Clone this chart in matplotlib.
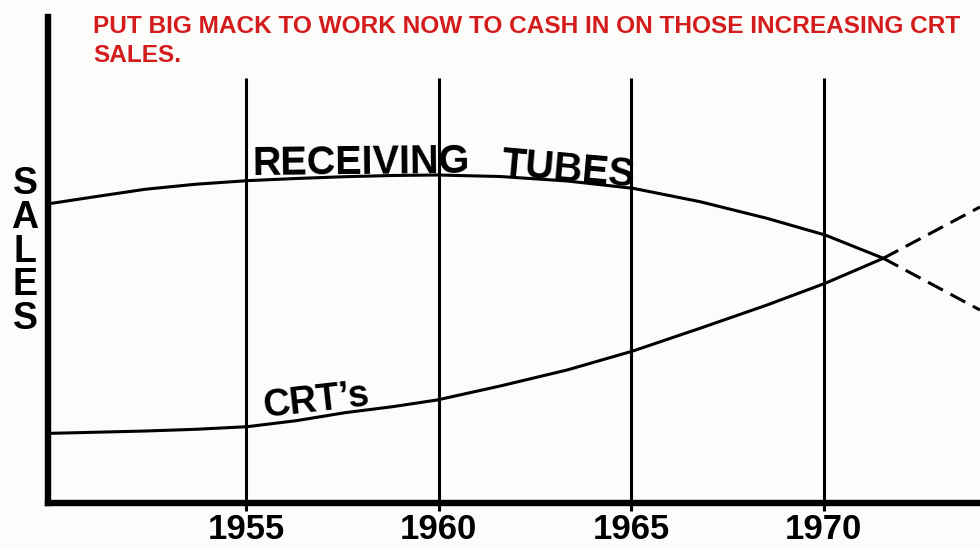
import matplotlib.pyplot as plt

# values (sales in arbitrary units, 0 = x axis, 100 = top of y axis)
tube_years = [1949.96, 1951.08, 1952.38, 1953.68, 1955.03, 1956.3, 1957.57, 1958.8,
              1959.96, 1961.6, 1963.34, 1965.05, 1966.79, 1968.53, 1970.04, 1971.55]
tube_sales = [61.67, 63.02, 64.55, 65.58, 66.32, 66.77, 67.14, 67.39,
              67.49, 67.18, 66.26, 64.75, 62.0, 58.57, 55.14, 50.35]

crt_years = [1949.96, 1952.38, 1953.68, 1955.03, 1956.3, 1957.57, 1958.8, 1959.96,
             1961.6, 1963.34, 1965.05, 1966.79, 1968.53, 1970.04, 1971.55]
crt_sales = [14.34, 14.81, 15.16, 15.70, 16.93, 18.58, 19.81, 21.19,
             24.07, 27.37, 31.28, 35.95, 40.74, 45.21, 50.35]

# dashed projections after the cross-over
proj_years = [1971.55, 1974.06]
crt_proj = [50.35, 60.91]
tube_proj = [50.35, 39.71]

grid_years = [1955, 1960, 1965, 1970]
grid_labels = ['1955', '1960', '1965', '1970']

title_1 = 'PUT BIG MACK TO WORK NOW TO CASH IN ON THOSE INCREASING CRT'
title_2 = 'SALES.'

font = 'Liberation Sans'
bg = '#fcfcfa'

fig = plt.figure(figsize=(9.8, 5.49), dpi=100, facecolor=bg)
ax = fig.add_axes([48/980, 1 - 503/549, (980 - 48)/980, 486/549])
ax.set_facecolor(bg)
ax.set_xlim(1949.86, 1974.06)
ax.set_ylim(0, 100)

ax.vlines(grid_years, 0, 87.4, color='black', lw=2.2)

ax.plot(tube_years, tube_sales, color='black', lw=2.2, solid_capstyle='round')
ax.plot(crt_years, crt_sales, color='black', lw=2.2, solid_capstyle='round')
ax.plot(proj_years, crt_proj, color='black', lw=2.2, linestyle=(0, (5.5, 2.8)))
ax.plot(proj_years, tube_proj, color='black', lw=2.2, linestyle=(0, (5.5, 2.8)))

for side in ['top', 'right']:
    ax.spines[side].set_visible(False)
for side in ['left', 'bottom']:
    ax.spines[side].set_linewidth(4.6)
ax.set_yticks([])
ax.set_xticks(grid_years, labels=grid_labels)
ax.tick_params(axis='x', length=6, width=2.2, pad=1)
for lab in ax.get_xticklabels():
    lab.set_fontsize(25)
    lab.set_fontweight('bold')
    lab.set_family(font)

# curve labels
ax.text(1958.0, 67.8, 'RECEIVING', fontsize=28.5, fontweight='bold', family=font,
        ha='center', va='baseline', rotation=0.6, rotation_mode='anchor')
ax.text(1963.34, 66.3, 'TUBES', fontsize=28.5, fontweight='bold', family=font,
        ha='center', va='baseline', rotation=-5, rotation_mode='anchor')
ax.text(1956.87, 19.0, 'CRT\u2019s', fontsize=27, fontweight='bold', family=font,
        ha='center', va='baseline', rotation=6.4, rotation_mode='anchor')

# y axis label, letters stacked
fig.text(25/980, 1 - 166/549, 'S\nA\nL\nE\nS', fontsize=27, fontweight='bold',
         family=font, ha='center', va='top', linespacing=0.92, multialignment='center')

# red headline
fig.text(93/980, 1 - 33/549, title_1, fontsize=17.6, fontweight='bold', family=font,
         color='#d41c1c', ha='left', va='baseline')
fig.text(93/980, 1 - 62/549, title_2, fontsize=17.6, fontweight='bold', family=font,
         color='#d41c1c', ha='left', va='baseline')

fig.savefig('out.png', dpi=100, facecolor=bg)
